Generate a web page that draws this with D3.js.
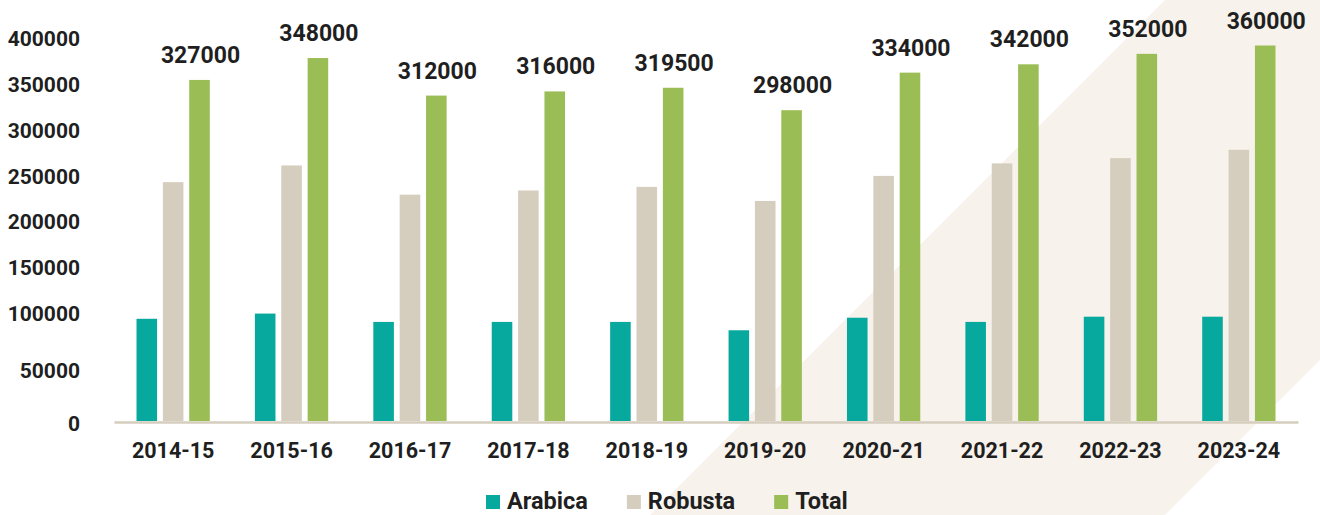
<!DOCTYPE html>
<html>
<head>
<meta charset="utf-8">
<script src="https://cdn.jsdelivr.net/npm/d3@7"></script>
<style>
  body { margin: 0; background: #fff; }
  text { font-family: Roboto, "DejaVu Sans", sans-serif; font-weight: 700; fill: #1f1f1f; }
</style>
</head>
<body>
<svg id="chart" width="1320" height="515"></svg>
<script>
// the data
const years = ["2014-15", "2015-16", "2016-17", "2017-18", "2018-19",
               "2019-20", "2020-21", "2021-22", "2022-23", "2023-24"];
const arabica = [98000, 103000, 95000, 95000, 95000, 87000, 99000, 95000, 100000, 100000];
const robusta = [229000, 245000, 217000, 221000, 224500, 211000, 235000, 247000, 252000, 260000];
const total = [327000, 348000, 312000, 316000, 319500, 298000, 334000, 342000, 352000, 360000];
const seriesNames = ["Arabica", "Robusta", "Total"];
const yTicks = [0, 50000, 100000, 150000, 200000, 250000, 300000, 350000, 400000];

const colors = { Arabica: "#07a99e", Robusta: "#d5cdbe", Total: "#9bbd56" };

let svg = d3.select("#chart"),
    width = +svg.attr("width"),
    height = +svg.attr("height");

// beige diagonal band in the background
svg.append("polygon")
    .attr("points", [[1165, 0], [width, 0], [width, 360], [1165, height], [650, height]].join(" "))
    .attr("fill", "#f7f2eb");

// scales
let x0 = d3.scaleBand()
    .domain(years)
    .range([114, 1298])
    .paddingInner(0.381)
    .paddingOuter(0.19);

let x1 = d3.scaleBand()
    .domain(seriesNames)
    .range([0, x0.bandwidth()])
    .paddingInner(0.22);

let y = d3.scaleLinear()
    .domain([0, 400000])
    .range([421, 3.8]);

// the tick labels in the source sit on their own spacing, not on the bar scale
let yLabel = d3.scaleLinear()
    .domain([0, 50000, 100000, 400000])
    .range([423, 370, 313, 38]);

// rows for the bars
let rows = years.map((yr, i) => ({
    year: yr,
    values: [
        { key: "Arabica", value: arabica[i] },
        { key: "Robusta", value: robusta[i] },
        { key: "Total", value: total[i] }
    ]
}));

// bars
let groups = svg.append("g")
    .selectAll("g")
    .data(rows)
    .enter()
    .append("g")
    .attr("transform", d => "translate(" + x0(d.year) + ",0)");

groups.selectAll("rect")
    .data(d => d.values)
    .enter()
    .append("rect")
    .attr("x", d => x1(d.key))
    .attr("width", x1.bandwidth())
    .attr("y", d => y(d.value))
    .attr("height", d => y(0) - y(d.value))
    .attr("fill", d => colors[d.key]);

// total labels above green bars
svg.append("g")
    .selectAll("text")
    .data(rows)
    .enter()
    .append("text")
    .attr("x", (d, i) => x0(d.year) + x1("Total") + x1.bandwidth() / 2 + 1)
    .attr("y", (d, i) => y(total[i]) - 17)
    .attr("text-anchor", "middle")
    .style("font-size", "23px")
    .text((d, i) => total[i]);

// x axis
let xAxis = svg.append("g")
    .attr("transform", "translate(0,422)")
    .call(d3.axisBottom(x0).tickSize(0).tickSizeOuter(0));

xAxis.select(".domain")
    .attr("stroke", "#d5cdbe")
    .attr("stroke-width", 2.5);

xAxis.selectAll("text")
    .attr("y", 36)
    .attr("dy", 0)
    .attr("fill", "#1f1f1f")
    .style("font-size", "21.5px")
    .style("font-family", "Roboto, sans-serif");

// y axis (labels only)
let yAxis = svg.append("g")
    .attr("transform", "translate(80,0)")
    .call(d3.axisLeft(yLabel).tickValues(yTicks).tickSize(0).tickPadding(0).tickFormat(d3.format("d")));

yAxis.select(".domain").remove();
yAxis.selectAll("text")
    .attr("fill", "#1f1f1f")
    .attr("dy", "0.36em")
    .style("font-size", "21px")
    .style("font-family", "Roboto, sans-serif");

// legend
let legend = svg.append("g");
let lx = 486;
seriesNames.forEach(name => {
    legend.append("rect")
        .attr("x", lx)
        .attr("y", 495)
        .attr("width", 14)
        .attr("height", 14)
        .attr("fill", colors[name]);
    let t = legend.append("text")
        .attr("x", lx + 21)
        .attr("y", 509)
        .style("font-size", "23.5px")
        .text(name);
    lx += 21 + t.node().getComputedTextLength() + 39;
});
</script>
</body>
</html>
